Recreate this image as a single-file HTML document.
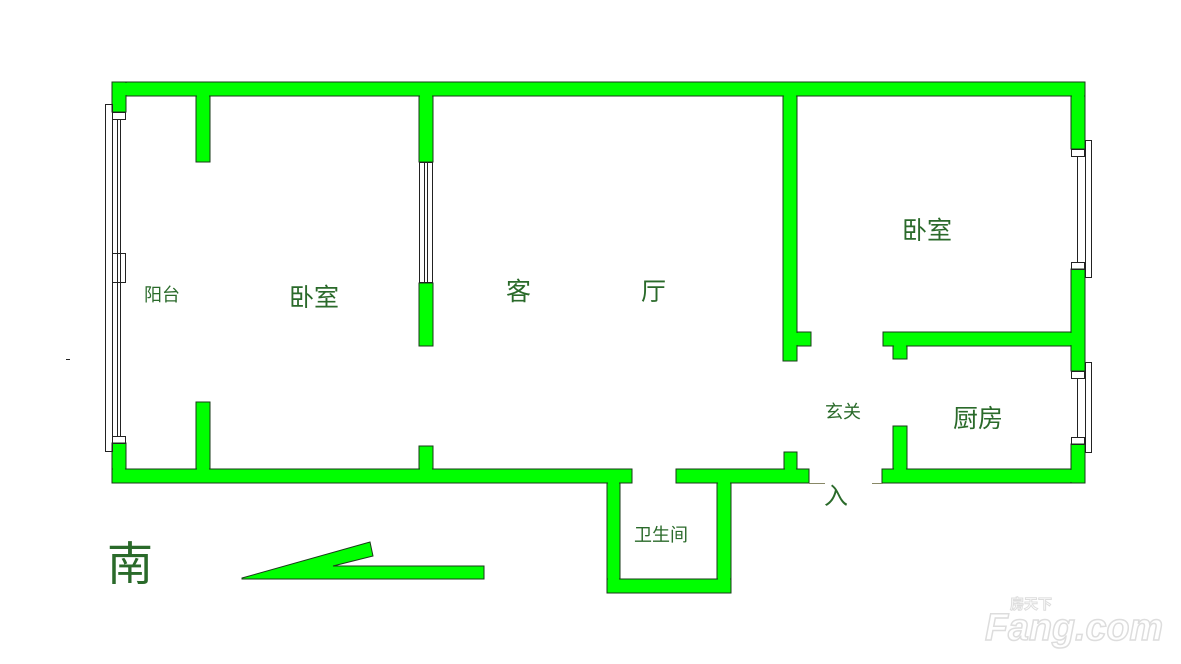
<!DOCTYPE html>
<html><head><meta charset="utf-8"><style>
html,body{margin:0;padding:0;background:#fff;}
svg{display:block}
text{font-family:"Liberation Sans","Noto Sans CJK SC",sans-serif;fill:#2a6a2a}
</style></head><body>
<svg width="1181" height="664" viewBox="0 0 1181 664" xmlns="http://www.w3.org/2000/svg">
<g fill="#00ff00" stroke="#1a3a1a" stroke-width="1">
<rect x="112" y="82" width="973" height="14"/>
<rect x="112" y="82" width="14" height="30"/>
<rect x="112" y="443" width="14" height="40"/>
<rect x="112" y="469" width="520" height="14"/>
<rect x="676" y="469" width="133" height="14"/>
<rect x="882" y="469" width="203" height="14"/>
<rect x="196" y="96" width="14" height="66"/>
<rect x="196" y="402" width="14" height="67"/>
<rect x="419" y="96" width="14" height="66"/>
<rect x="419" y="283" width="14" height="63"/>
<rect x="419" y="446" width="14" height="23"/>
<rect x="783" y="96" width="14" height="265"/>
<rect x="797" y="332" width="14" height="14"/>
<rect x="784" y="452" width="13" height="17"/>
<rect x="883" y="332" width="188" height="14"/>
<rect x="893" y="346" width="14" height="13"/>
<rect x="893" y="426" width="14" height="43"/>
<rect x="1071" y="96" width="14" height="53"/>
<rect x="1071" y="269" width="14" height="102"/>
<rect x="1071" y="444" width="14" height="39"/>
<rect x="607" y="483" width="13" height="110"/>
<rect x="717" y="483" width="14" height="110"/>
<rect x="607" y="579" width="124" height="14"/>
<polygon points="242,578 370,542 373,556 333,566 484,566 484,579 242,579"/>
</g>
<g fill="#00ff00">
<rect x="113" y="83" width="12" height="28"/>
<rect x="113" y="444" width="12" height="38"/>
<rect x="113" y="470" width="518" height="12"/>
<rect x="197" y="83" width="12" height="78"/>
<rect x="197" y="403" width="12" height="79"/>
<rect x="420" y="83" width="12" height="78"/>
<rect x="420" y="447" width="12" height="35"/>
<rect x="784" y="83" width="12" height="277"/>
<rect x="784" y="333" width="26" height="12"/>
<rect x="785" y="453" width="11" height="29"/>
<rect x="677" y="470" width="131" height="12"/>
<rect x="883" y="470" width="201" height="12"/>
<rect x="884" y="333" width="200" height="12"/>
<rect x="894" y="333" width="12" height="25"/>
<rect x="894" y="427" width="12" height="55"/>
<rect x="1072" y="83" width="12" height="65"/>
<rect x="1072" y="270" width="12" height="100"/>
<rect x="1072" y="445" width="12" height="37"/>
<rect x="608" y="470" width="11" height="122"/>
<rect x="718" y="470" width="12" height="122"/>
<rect x="608" y="580" width="122" height="12"/>
<rect x="113" y="83" width="971" height="12"/>
</g>
<g fill="none" stroke="#222" stroke-width="1">
<rect x="105.5" y="104.5" width="7" height="347"/>
<rect x="112.5" y="112.5" width="13" height="7"/>
<rect x="112.5" y="436.5" width="13" height="7"/>
<rect x="112.5" y="253.5" width="13" height="29"/>
<line x1="117.5" y1="119" x2="117.5" y2="437"/>
<line x1="120.5" y1="119" x2="120.5" y2="437"/>
<rect x="419.5" y="162.5" width="13" height="120"/>
<line x1="424.5" y1="162" x2="424.5" y2="283"/>
<line x1="427.5" y1="162" x2="427.5" y2="283"/>
<rect x="1085.5" y="140.5" width="6" height="137"/>
<rect x="1071.5" y="149.5" width="13" height="7"/>
<rect x="1071.5" y="262.5" width="13" height="7"/>
<line x1="1077.5" y1="156" x2="1077.5" y2="263"/>
<rect x="1085.5" y="362.5" width="6" height="90"/>
<rect x="1071.5" y="371.5" width="13" height="7"/>
<rect x="1071.5" y="437.5" width="13" height="7"/>
<line x1="1077.5" y1="378" x2="1077.5" y2="438"/>
<line x1="809" y1="483.5" x2="825" y2="483.5" stroke="#886"/>
<line x1="872" y1="483.5" x2="883" y2="483.5" stroke="#886"/>
<line x1="66" y1="359.5" x2="70" y2="359.5"/>
</g>
<text x="144" y="301" font-size="18">阳台</text>
<text x="289" y="306" font-size="25">卧室</text>
<text x="506" y="300" font-size="25">客</text>
<text x="641" y="300" font-size="25">厅</text>
<text x="902" y="239" font-size="25">卧室</text>
<text x="825" y="418" font-size="18">玄关</text>
<text x="953" y="427" font-size="25">厨房</text>
<text x="634" y="541" font-size="18">卫生间</text>
<text x="824" y="504" font-size="24">入</text>
<text x="107" y="580" font-size="46">南</text>
<text x="1010" y="609" font-size="14" font-weight="bold" style="fill:#fff;stroke:#ddd;stroke-width:1">房天下</text>
<text x="985" y="640" font-size="38" font-weight="bold" font-style="italic" textLength="178" lengthAdjust="spacingAndGlyphs" style="fill:#fff;stroke:#ddd;stroke-width:1.5">Fang.com</text>
</svg>
</body></html>
